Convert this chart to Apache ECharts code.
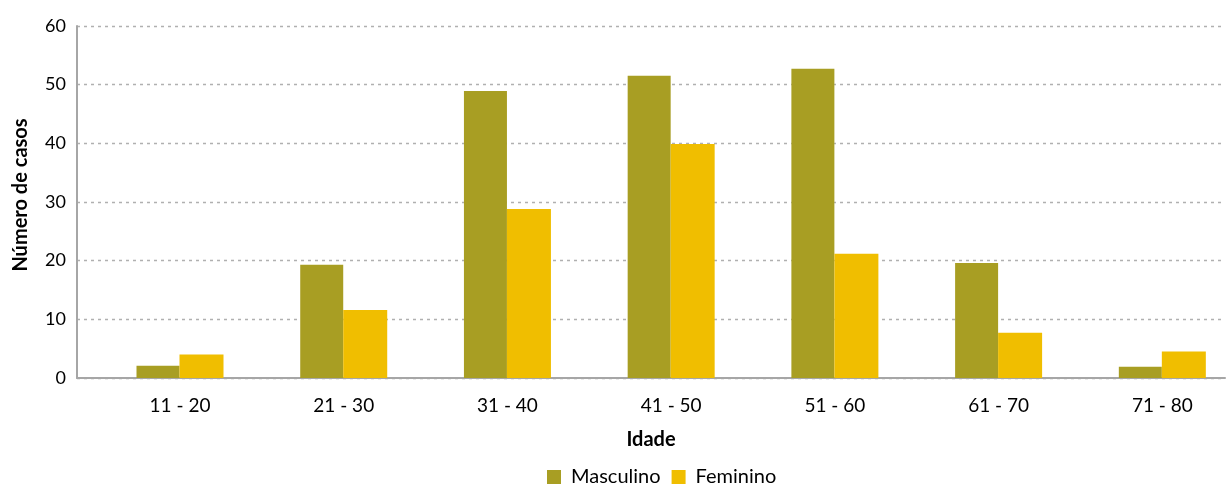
<!DOCTYPE html>
<html>
<head>
<meta charset="utf-8">
<script src="https://cdn.jsdelivr.net/npm/echarts@6/dist/echarts.min.js"></script>
<style>html,body{margin:0;padding:0;background:#fff}#c{width:1227px;height:484px}</style>
</head>
<body>
<div id="c"></div>
<script>
var categories = ['11 - 20', '21 - 30', '31 - 40', '41 - 50', '51 - 60', '61 - 70', '71 - 80'];
var masculino = [2.1, 19.3, 48.9, 51.5, 52.7, 19.6, 1.9];
var feminino = [4.0, 11.6, 28.8, 39.9, 21.2, 7.7, 4.5];
var yTicks = [0, 10, 20, 30, 40, 50, 60];

var FONT = 'Lato, "Open Sans", sans-serif';
// category positions: index i of categories on a value axis (one unit = one category band)
var mData = masculino.map(function (v, i) { return [i, v]; });
var fData = feminino.map(function (v, i) { return [i, v]; });

var chart = echarts.init(document.getElementById('c'));
chart.setOption({
  animation: false,
  textStyle: { fontFamily: FONT },
  grid: [
    { left: 77, right: 2, top: 26, bottom: 106 },
    { left: 180, right: 0, top: 26, bottom: 106 }
  ],
  legend: {
    top: 462, left: 542,
    itemWidth: 14, itemHeight: 14, itemGap: 11,
    icon: 'rect',
    textStyle: { fontSize: 20, color: '#000', fontFamily: FONT, padding: [0, 0, 0, 5] },
    data: ['Masculino', 'Feminino']
  },
  xAxis: [
    {
      gridIndex: 0, type: 'value', min: 0, max: 1,
      axisLine: { show: true, lineStyle: { color: '#A6A6A6', width: 2 } },
      axisTick: { show: false }, axisLabel: { show: false }, splitLine: { show: false },
      name: 'Idade', nameLocation: 'middle', nameGap: 52,
      nameTextStyle: { fontSize: 20, fontWeight: 'bold', color: '#000', fontFamily: FONT }
    },
    {
      gridIndex: 1, type: 'value', min: 0, max: 6.395, interval: 1,
      axisLine: { show: false }, axisTick: { show: false }, splitLine: { show: false },
      axisLabel: {
        fontSize: 19, color: '#000', margin: 18, fontFamily: FONT,
        showMaxLabel: false,
        formatter: function (v) { return categories[v] !== undefined ? categories[v] : ''; }
      }
    }
  ],
  yAxis: [
    {
      gridIndex: 0, type: 'value', min: yTicks[0], max: yTicks[yTicks.length - 1], interval: 10,
      axisLine: { show: true, lineStyle: { color: '#A6A6A6', width: 2 } },
      axisTick: { show: false },
      axisLabel: { fontSize: 18, color: '#000', margin: 11, fontFamily: FONT },
      splitLine: { show: true, lineStyle: { color: '#B0B0B0', type: [3, 4], width: 1.3 } },
      name: 'Número de casos', nameLocation: 'middle', nameGap: 46,
      nameTextStyle: { fontSize: 20, fontWeight: 'bold', color: '#000', fontFamily: FONT, padding: [0, 0, 0, 14] }
    },
    {
      gridIndex: 1, type: 'value', min: yTicks[0], max: yTicks[yTicks.length - 1], interval: 10,
      show: false, splitLine: { show: false }
    }
  ],
  series: [
    {
      name: 'Masculino', type: 'bar', xAxisIndex: 1, yAxisIndex: 1,
      data: mData, barWidth: 43, barGap: '0%',
      itemStyle: { color: '#A89E23' }
    },
    {
      name: 'Feminino', type: 'bar', xAxisIndex: 1, yAxisIndex: 1,
      data: fData, barWidth: 44, barGap: '0%',
      itemStyle: { color: '#F0BE00' }
    }
  ]
});
</script>
</body>
</html>
